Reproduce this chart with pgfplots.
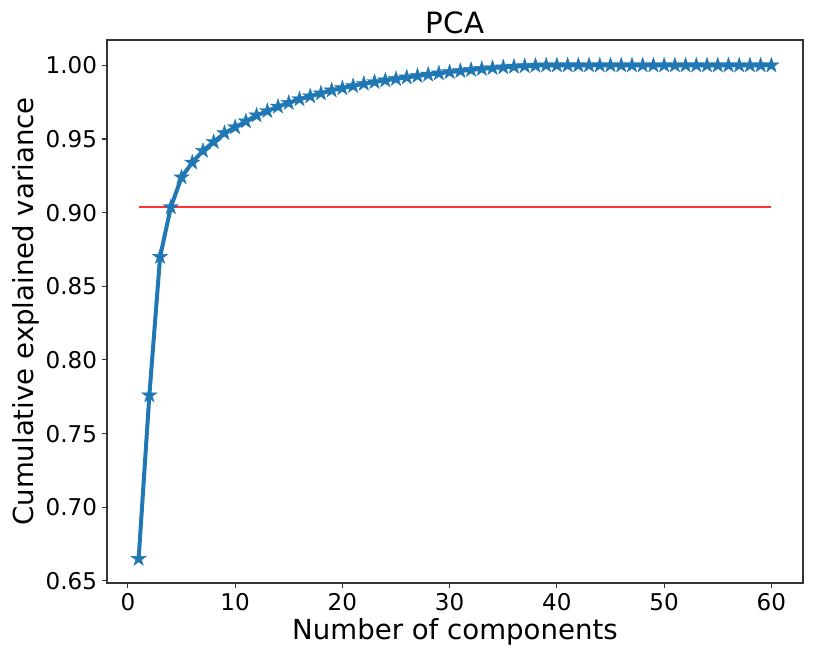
\documentclass[border=0pt]{standalone}
\usepackage{pgfplots}
\pgfplotsset{compat=1.18}
\usepackage{fontspec}
\setmainfont{DejaVu Sans}
\definecolor{tabblue}{HTML}{1F77B4}
\pgfdeclareplotmark{fstar}{%
  \pgfpathmoveto{\pgfqpointpolar{90}{\pgfplotmarksize}}%
  \pgfpathlineto{\pgfqpointpolar{126}{0.382\pgfplotmarksize}}%
  \pgfpathlineto{\pgfqpointpolar{162}{\pgfplotmarksize}}%
  \pgfpathlineto{\pgfqpointpolar{198}{0.382\pgfplotmarksize}}%
  \pgfpathlineto{\pgfqpointpolar{234}{\pgfplotmarksize}}%
  \pgfpathlineto{\pgfqpointpolar{270}{0.382\pgfplotmarksize}}%
  \pgfpathlineto{\pgfqpointpolar{306}{\pgfplotmarksize}}%
  \pgfpathlineto{\pgfqpointpolar{342}{0.382\pgfplotmarksize}}%
  \pgfpathlineto{\pgfqpointpolar{18}{\pgfplotmarksize}}%
  \pgfpathlineto{\pgfqpointpolar{54}{0.382\pgfplotmarksize}}%
  \pgfpathclose\pgfusepathqfillstroke}
\begin{document}
\begin{tikzpicture}
\useasboundingbox (0,0) rectangle (612pt,489pt);
\begin{axis}[
  at={(80.25pt,51.75pt)}, anchor=south west,
  scale only axis, width=522pt, height=407.25pt,
  xmin=-1.95, xmax=62.95, ymin=0.6486, ymax=1.0172,
  xtick={0,10,...,60},
  ytick={0.65,0.70,0.75,0.80,0.85,0.90,0.95,1.00},
  yticklabel style={/pgf/number format/.cd,fixed,fixed zerofill,precision=2},
  /pgf/number format/assume math mode=true,
  tick align=outside, major tick length=4pt,
  xtick pos=bottom, ytick pos=left,
  axis line style={black!80, line width=0.8pt},
  every tick/.style={black!80, line width=0.8pt},
  ticklabel style={font=\fontsize{17.3}{17.3}\selectfont},
  xlabel={Number of components},
  ylabel={Cumulative explained variance},
  label style={font=\fontsize{20.7}{20.7}\selectfont},
  title={PCA},
  title style={font=\fontsize{22}{22}\selectfont, yshift=-5pt},
  xlabel style={yshift=1pt},
  ylabel style={yshift=-2pt},
  clip=false,
]
\addplot[red, opacity=0.8, line width=1.5pt] coordinates {(1,0.9037) (60,0.9037)};
\addplot[tabblue, line width=3pt, mark=fstar, mark size=6pt, mark options={line width=0.3pt, fill=tabblue}] coordinates {
(1,0.665)(2,0.776)(3,0.870)(4,0.9037)(5,0.924)(6,0.934)(7,0.942)(8,0.948)(9,0.954)(10,0.958)
(11,0.962)(12,0.966)(13,0.969)(14,0.972)(15,0.9745)(16,0.977)(17,0.979)(18,0.981)(19,0.983)(20,0.9845)
(21,0.986)(22,0.9875)(23,0.9887)(24,0.9898)(25,0.9908)(26,0.9918)(27,0.9928)(28,0.9937)(29,0.9946)(30,0.9954)
(31,0.9962)(32,0.9969)(33,0.9976)(34,0.9982)(35,0.9987)(36,0.9991)(37,0.9995)(38,0.9998)(39,1.0)(40,1.0)
(41,1.0)(42,1.0)(43,1.0)(44,1.0)(45,1.0)(46,1.0)(47,1.0)(48,1.0)(49,1.0)(50,1.0)
(51,1.0)(52,1.0)(53,1.0)(54,1.0)(55,1.0)(56,1.0)(57,1.0)(58,1.0)(59,1.0)(60,1.0)
};
\end{axis}
\end{tikzpicture}
\end{document}
